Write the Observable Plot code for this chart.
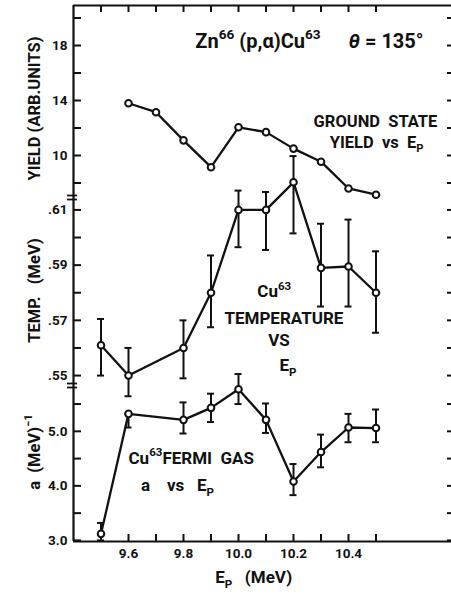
<!DOCTYPE html>
<html><head><meta charset="utf-8">
<script src="https://cdn.jsdelivr.net/npm/d3@7"></script>
<script src="https://cdn.jsdelivr.net/npm/@observablehq/plot@0.6"></script>
<style>
body{margin:0;background:#fff;}
#chart{position:relative;width:451px;height:594px;overflow:hidden;background:#fff;}
#chart svg{position:absolute;left:0;top:0;}
</style></head><body><div id="chart"></div>
<script>
// ---- data ----
const yieldE = [9.6, 9.7, 9.8, 9.9, 10.0, 10.1, 10.2, 10.3, 10.4, 10.5];
const yieldV = [13.8, 13.15, 11.1, 9.15, 12.05, 11.7, 10.5, 9.55, 7.6, 7.15];

const tempE  = [9.5, 9.6, 9.8, 9.9, 10.0, 10.1, 10.2, 10.3, 10.4, 10.5];
const tempV  = [0.561, 0.550, 0.560, 0.580, 0.610, 0.610, 0.620, 0.589, 0.5895, 0.580];
const tempLo = [0.550, 0.5425, 0.549, 0.5675, 0.5965, 0.5955, 0.6015, 0.575, 0.575, 0.5655];
const tempHi = [0.5705, 0.560, 0.570, 0.5935, 0.617, 0.6165, 0.6295, 0.605, 0.6065, 0.595];

const aE  = [9.5, 9.6, 9.8, 9.9, 10.0, 10.1, 10.2, 10.3, 10.4, 10.5];
const aV  = [3.12, 5.32, 5.21, 5.43, 5.77, 5.21, 4.08, 4.62, 5.07, 5.06];
const aLo = [3.0, 5.07, 4.96, 5.17, 5.50, 4.97, 3.83, 4.34, 4.80, 4.80];
const aHi = [3.32, 5.32, 5.53, 5.69, 6.05, 5.51, 4.40, 4.94, 5.32, 5.40];

const xTickValues = [9.5, 9.6, 9.7, 9.8, 9.9, 10.0, 10.1, 10.2, 10.3, 10.4, 10.5];
const xTickLabels = ["9.6", "9.8", "10.0", "10.2", "10.4"];
const yieldTicks = [18, 14, 10];
const yieldTickLabels = ["18", "14", "10"];
const yieldMinor = [20, 16, 12, 8];
const tempTicks = [0.61, 0.59, 0.57, 0.55];
const tempTickLabels = [".61", ".59", ".57", ".55"];
const tempMinor = [0.60, 0.58, 0.56];
const aTicks = [5.0, 4.0, 3.0];
const aTickLabels = ["5.0", "4.0", "3.0"];
const aMinor = [5.5, 4.5, 3.5];

// ---- layout ----
const W = 451, H = 594;
const xDomain = [9.40, 10.7745];
const FONT = "Roboto, 'DejaVu Sans', sans-serif";
const ink = "#111";
const sp = n => "\u00A0".repeat(n);

function zip(E, V, L, Hh) { return E.map((e, i) => ({e, v: V[i], lo: L ? L[i] : null, hi: Hh ? Hh[i] : null})); }

function panel({domain, top, bottom, marks}) {
  return Plot.plot({
    width: W, height: H,
    marginLeft: 73, marginRight: 0, marginTop: top, marginBottom: H - bottom,
    x: {domain: xDomain, axis: null},
    y: {domain, axis: null},
    style: {background: "none", fontFamily: FONT, fontWeight: "bold", color: ink, overflow: "visible"},
    marks
  });
}

function yAxisMarks(major, labels, minor) {
  const ticks = major.map((v, i) => ({v, label: labels[i]}));
  return [
    Plot.ruleY(major.concat(minor), {y: d => d, x1: xDomain[0], x2: xDomain[0], insetRight: -8, stroke: ink, strokeWidth: 2}),
    Plot.ruleY(major.concat(minor), {y: d => d, x1: xDomain[1], x2: xDomain[1], insetLeft: -4, stroke: ink, strokeWidth: 2}),
    Plot.text(ticks, {y: "v", x: xDomain[0], text: "label", textAnchor: "end", dx: -6, fontSize: 13.5, fill: ink})
  ];
}

function breakMarks(yv) {
  return [
    Plot.ruleY([yv], {y: d => d, x1: xDomain[0], x2: xDomain[0], insetLeft: -6, insetRight: -4, dy: -2, stroke: ink, strokeWidth: 1.8}),
    Plot.ruleY([yv], {y: d => d, x1: xDomain[0], x2: xDomain[0], insetLeft: -6, insetRight: -4, dy: 2, stroke: ink, strokeWidth: 1.8})
  ];
}

function seriesMarks(rows, withErr) {
  const m = [];
  if (withErr) {
    m.push(Plot.ruleX(rows, {x: "e", y1: "lo", y2: "hi", stroke: ink, strokeWidth: 2}));
    m.push(Plot.ruleY(rows, {y: "lo", x1: "e", x2: "e", insetLeft: -3.5, insetRight: -3.5, stroke: ink, strokeWidth: 2}));
    m.push(Plot.ruleY(rows, {y: "hi", x1: "e", x2: "e", insetLeft: -3.5, insetRight: -3.5, stroke: ink, strokeWidth: 2}));
  }
  m.push(Plot.line(rows, {x: "e", y: "v", stroke: ink, strokeWidth: 2.3}));
  m.push(Plot.dot(rows, {x: "e", y: "v", r: 3.3, fill: "white", stroke: ink, strokeWidth: 2}));
  return m;
}

function label(str, x, y, opts) {
  return Plot.text([str], Object.assign({x, y, text: d => d, fill: ink, lineAnchor: "bottom"}, opts));
}

// base: frame + x axis
const base = Plot.plot({
  width: W, height: H,
  marginLeft: 73, marginRight: 0, marginTop: 5, marginBottom: H - 541,
  x: {domain: xDomain, axis: null},
  y: {domain: [0, 1], axis: null},
  style: {background: "none", fontFamily: FONT, fontWeight: "bold", color: ink, overflow: "visible"},
  marks: [
    Plot.ruleY([1], {y: d => d, stroke: ink, strokeWidth: 2}),
    Plot.ruleY([0], {y: d => d, stroke: ink, strokeWidth: 2.2}),
    Plot.ruleX([xDomain[0]], {x: d => d, stroke: ink, strokeWidth: 2.2}),
    Plot.ruleX(xTickValues, {x: d => d, y1: 1, y2: 1, insetBottom: -7, stroke: ink, strokeWidth: 2}),
    Plot.ruleX(xTickValues.slice(1), {x: d => d, y1: 0, y2: 0, insetTop: -7, stroke: ink, strokeWidth: 2}),
    Plot.text(xTickLabels, {x: d => +d, y: 0, text: d => d, dy: 12, lineAnchor: "middle", fontSize: 13.5, fill: ink}),
    label("E_{P}" + sp(3) + "(MeV)", 10.055, 0, {dy: 41, fontSize: 17})
  ]
});

const yieldRows = zip(yieldE, yieldV);
const yieldPlot = panel({
  domain: [6.945, 20.91], top: 5, bottom: 197,
  marks: [
    ...yAxisMarks(yieldTicks, yieldTickLabels, yieldMinor),
    ...seriesMarks(yieldRows, false),
    label("Zn^{66}" + sp(1) + "(p,α)Cu^{63}", 9.843, 17.85, {textAnchor: "start", fontSize: 20}),
    label("%{θ} = 135°", 10.40, 17.85, {textAnchor: "start", fontSize: 20}),
    label("GROUND" + sp(2) + "STATE", 10.498, 12.04, {textAnchor: "middle", fontSize: 16.5}),
    label("YIELD" + sp(2) + "vs" + sp(2) + "E_{P}", 10.502, 10.58, {textAnchor: "middle", fontSize: 16.5}),
    Plot.text(["YIELD (ARB.UNITS)"], {x: xDomain[0], y: 13.42, text: d => d, rotate: -90, dx: -39, fontSize: 16.5, fill: ink})
  ]
});

const tempRows = zip(tempE, tempV, tempLo, tempHi);
const tempPlot = panel({
  domain: [0.5464, 0.6145], top: 197, bottom: 385,
  marks: [
    ...yAxisMarks(tempTicks, tempTickLabels, tempMinor),
    ...breakMarks(0.6145),
    ...seriesMarks(tempRows, true),
    label("Cu^{63}", 10.13, 0.5783, {textAnchor: "middle", fontSize: 17}),
    label("TEMPERATURE", 10.165, 0.5685, {textAnchor: "middle", fontSize: 17}),
    label("VS", 10.147, 0.5606, {textAnchor: "middle", fontSize: 17}),
    label("E_{P}", 10.18, 0.5518, {textAnchor: "middle", fontSize: 17}),
    Plot.text(["TEMP." + sp(3) + "(MeV)"], {x: xDomain[0], y: 0.5808, text: d => d, rotate: -90, dx: -39, fontSize: 16.5, fill: ink})
  ]
});

const aRows = zip(aE, aV, aLo, aHi);
const aPlot = panel({
  domain: [2.98, 5.84], top: 385, bottom: 541,
  marks: [
    ...yAxisMarks(aTicks, aTickLabels, aMinor),
    ...breakMarks(5.84),
    ...seriesMarks(aRows, true),
    label("Cu^{63}FERMI" + sp(2) + "GAS", 9.60, 4.407, {textAnchor: "start", fontSize: 17}),
    label("a" + sp(4) + "vs" + sp(3) + "E_{P}", 9.645, 3.905, {textAnchor: "start", fontSize: 17}),
    Plot.text(["a" + sp(2) + "(MeV)^{−1}"], {x: xDomain[0], y: 4.62, text: d => d, rotate: -90, dx: -39, fontSize: 16.5, fill: ink})
  ]
});

const chart = document.getElementById("chart");
[base, yieldPlot, tempPlot, aPlot].forEach(s => chart.appendChild(s));

// rich text: ^{sup}, _{sub}, %{italic}
function richify(svg) {
  svg.querySelectorAll("text").forEach(t => {
    const s = t.textContent;
    if (!/[\^_%]\{/.test(s)) return;
    const fs = parseFloat(getComputedStyle(t).fontSize) || 16;
    const parts = [];
    const re = /([\^_%])\{([^}]*)\}/g;
    let last = 0, m;
    while ((m = re.exec(s))) {
      if (m.index > last) parts.push({t: s.slice(last, m.index), k: ""});
      parts.push({t: m[2], k: m[1]});
      last = re.lastIndex;
    }
    if (last < s.length) parts.push({t: s.slice(last), k: ""});
    t.textContent = "";
    let shift = 0;
    for (const p of parts) {
      const ts = document.createElementNS("http://www.w3.org/2000/svg", "tspan");
      const target = p.k === "^" ? -0.45 * fs : p.k === "_" ? 0.3 * fs : 0;
      if (target - shift !== 0) ts.setAttribute("dy", (target - shift).toFixed(2));
      shift = target;
      if (p.k === "^" || p.k === "_") ts.setAttribute("font-size", (0.68 * fs).toFixed(2));
      if (p.k === "%") ts.setAttribute("font-style", "italic");
      ts.textContent = p.t;
      t.appendChild(ts);
    }
  });
}
chart.querySelectorAll("svg").forEach(richify);
</script>
</body></html>
